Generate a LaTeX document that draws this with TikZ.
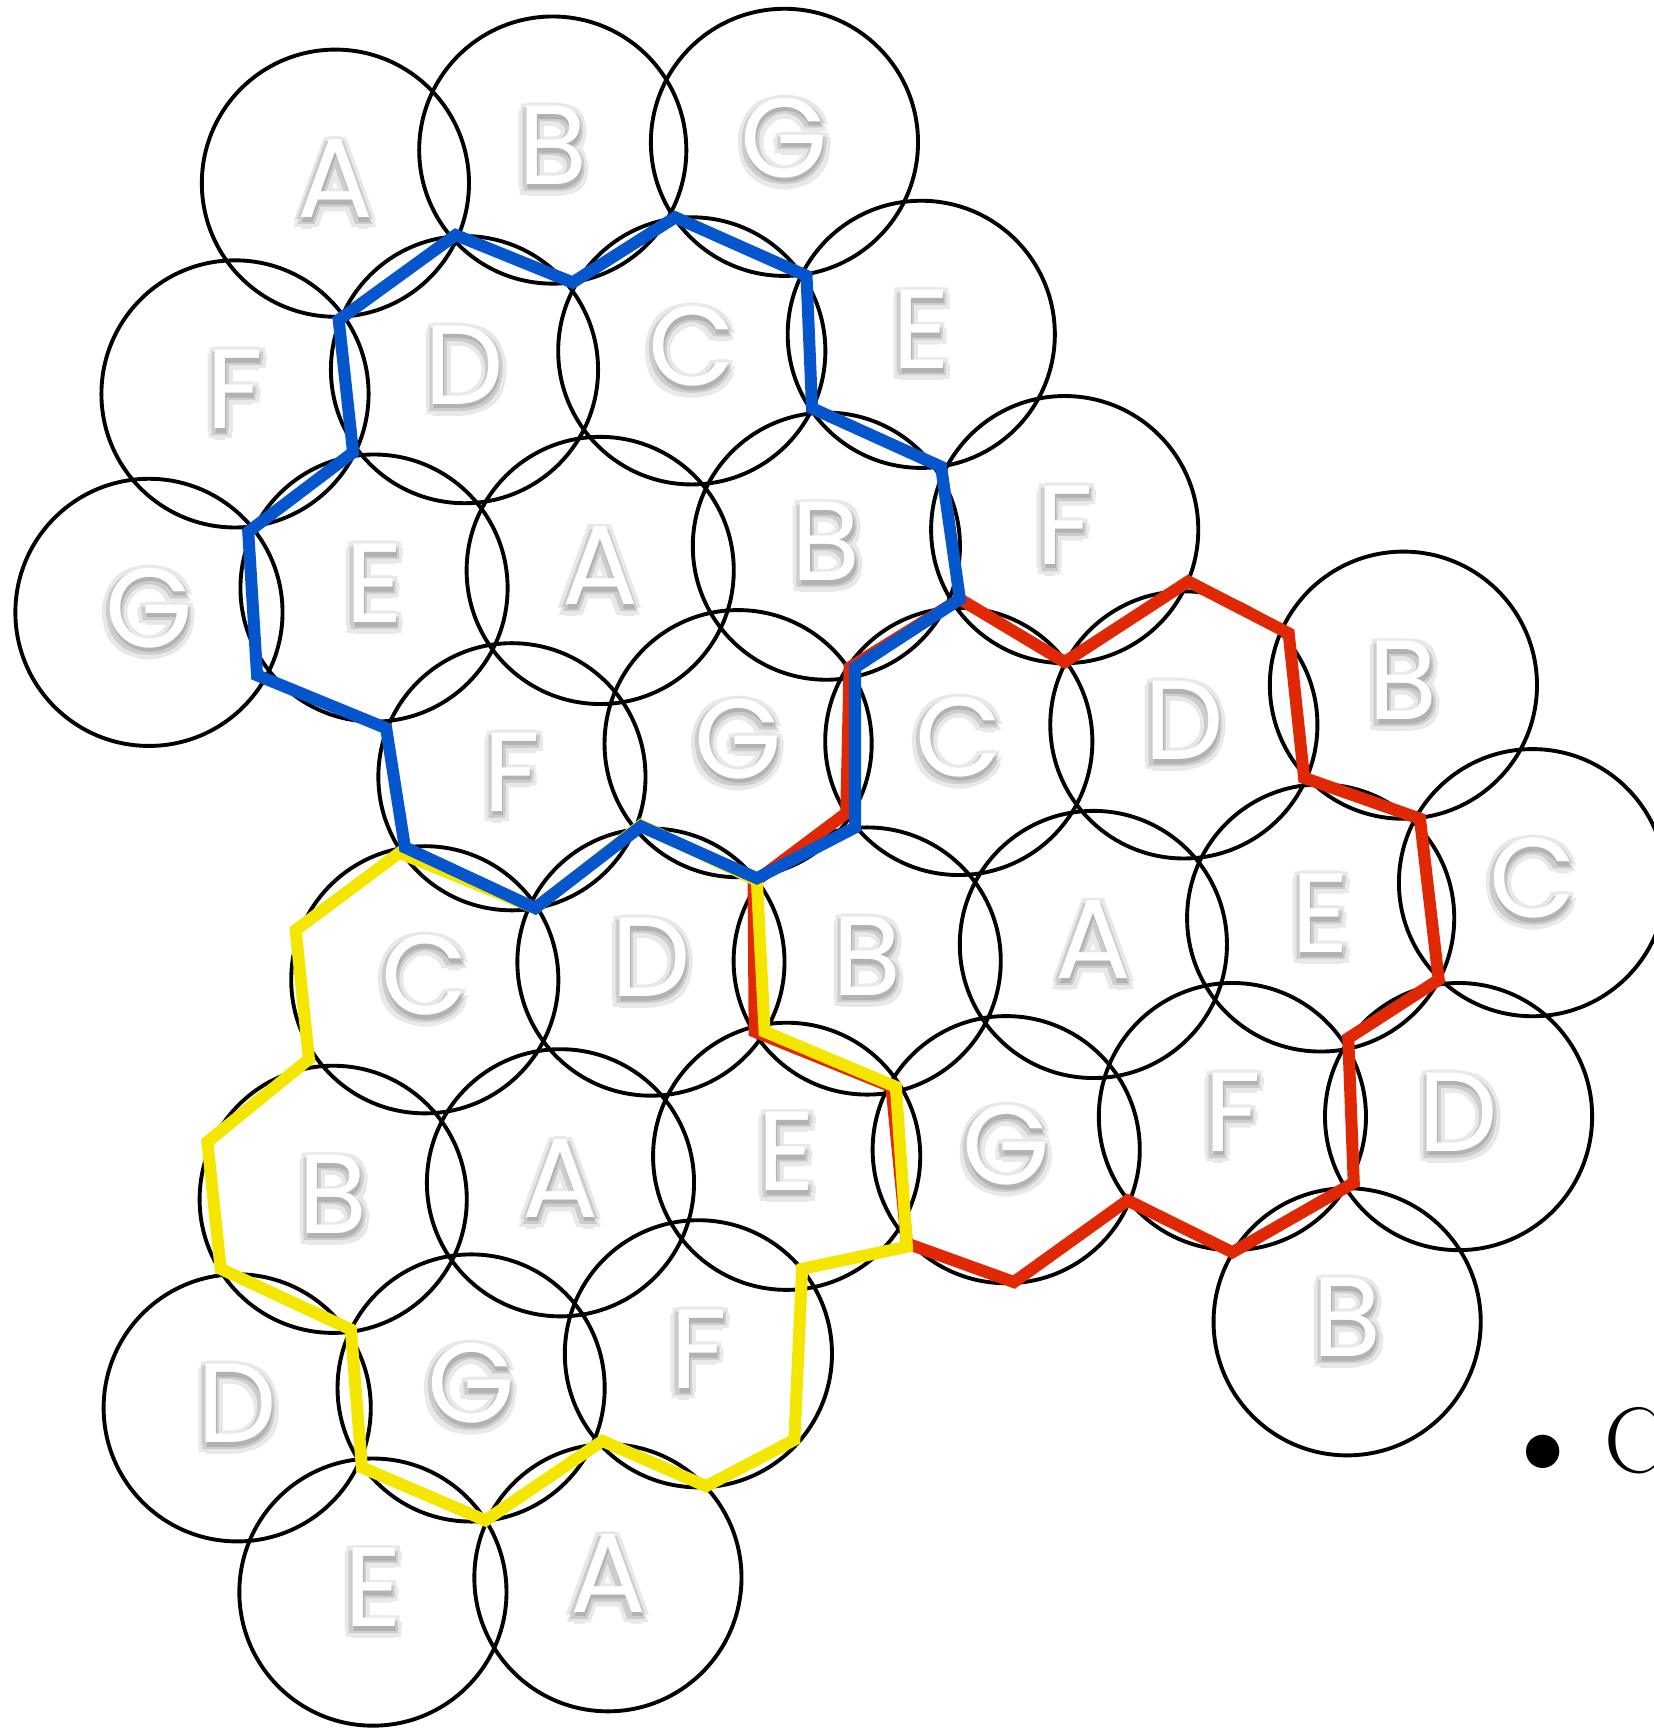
\documentclass[tikz,border=0pt]{standalone}
\usepackage{fontspec}
\newfontfamily\cellfont{Poppins}
\definecolor{pathblue}{RGB}{5,85,205}
\definecolor{pathred}{RGB}{225,40,5}
\definecolor{pathyellow}{RGB}{245,230,0}
% white letter with a soft grey drop shadow
\newcommand{\shadowed}[1]{%
  \foreach \dx/\dy in {-1.7/-2.7,0/-3.1,1.7/-2.7,-1.9/-1.0,1.9/-1.0,-1.4/0.5,0/0.7,1.4/0.5}{%
    \makebox[0pt][l]{\hspace{\dx pt}\raisebox{\dy pt}{\textcolor{black!9}{#1}}}}%
  \foreach \dx/\dy in {-0.8/-1.8,0.8/-1.8,-0.9/-0.6,0.9/-0.6}{%
    \makebox[0pt][l]{\hspace{\dx pt}\raisebox{\dy pt}{\textcolor{black!20}{#1}}}}%
  \makebox[0pt][l]{\hspace{0.3pt}\raisebox{-1.2pt}{\textcolor{black!30}{#1}}}%
  \textcolor{white}{#1}}
\begin{document}
\begin{tikzpicture}[
        x=0.01cm, y=-0.01cm,
        cell/.style={circle, draw=black, line width=1pt, minimum size=2.42cm, inner sep=0pt,
                     font=\cellfont\fontsize{29}{32}\selectfont},
        tour/.style={line width=3.1pt, line join=miter},
    ]
    \useasboundingbox (0,0) rectangle (1499,1568);
    % Row 1
    \node[cell] (A1) at (304,166) {\shadowed{A}};
    \node[cell] (B1) at (501,136) {\shadowed{B}};
    \node[cell] (G1) at (711,129) {\shadowed{G}};
    % Row 2
    \node[cell] (F1) at (213,357) {\shadowed{F}};
    \node[cell] (D1) at (421,335) {\shadowed{D}};
    \node[cell] (C1) at (627,318) {\shadowed{C}};
    \node[cell] (E1) at (835,303) {\shadowed{E}};
    % Row 3
    \node[cell] (G2) at (135,555) {\shadowed{G}};
    \node[cell] (E2) at (339,533) {\shadowed{E}};
    \node[cell] (A2) at (544,517) {\shadowed{A}};
    \node[cell] (B2) at (749,495) {\shadowed{B}};
    \node[cell] (F2) at (965,480) {\shadowed{F}};
    % Row 4
    \node[cell] (F3) at (464,704) {\shadowed{F}};
    \node[cell] (G3) at (669,674) {\shadowed{G}};
    \node[cell] (C2) at (869,672) {\shadowed{C}};
    \node[cell] (D2) at (1073,657) {\shadowed{D}};
    \node[cell] (B3) at (1272,621) {\shadowed{B}};
    % Row 5
    \node[cell] (C3) at (385,888) {\shadowed{C}};
    \node[cell] (D3) at (590,872) {\shadowed{D}};
    \node[cell] (B4) at (786,871) {\shadowed{B}};
    \node[cell] (A3) at (991,856) {\shadowed{A}};
    \node[cell] (E3) at (1197,832) {\shadowed{E}};
    \node[cell] (C4) at (1389,800) {\shadowed{C}};
    % Row 6
    \node[cell] (B5) at (302,1087) {\shadowed{B}};
    \node[cell] (A4) at (508,1072) {\shadowed{A}};
    \node[cell] (E4) at (713,1048) {\shadowed{E}};
    \node[cell] (G4) at (912,1042) {\shadowed{G}};
    \node[cell] (F4) at (1117,1012) {\shadowed{F}};
    \node[cell] (D4) at (1322,1012) {\shadowed{D}};
    % Row 7
    \node[cell] (D5) at (215,1276) {\shadowed{D}};
    \node[cell] (G5) at (427,1258) {\shadowed{G}};
    \node[cell] (F5) at (633,1227) {\shadowed{F}};
    \node[cell] (B6) at (1221,1198) {\shadowed{B}};
    % Row 8
    \node[cell] (E5) at (338,1443) {\shadowed{E}};
    \node[cell] (A5) at (551,1430) {\shadowed{A}};

    % Red tour
    \draw[tour, pathred] (870,543) -- (965,600) -- (1077,527) -- (1168,574) -- (1182,705)
        -- (1287,742) -- (1304,888) -- (1222,941) -- (1227,1072) -- (1117,1135) -- (1022,1088)
        -- (919,1162) -- (822,1127) -- (808,985) -- (684,935) -- (683,800) -- (767,737)
        -- (770,605) -- cycle;
    % Yellow tour
    \draw[tour, pathyellow] (686,798) -- (693,935) -- (812,985) -- (822,1130) -- (727,1150)
        -- (720,1305) -- (640,1347) -- (546,1306) -- (440,1378) -- (328,1330) -- (318,1205)
        -- (200,1150) -- (188,1035) -- (280,960) -- (268,843) -- (362,773) -- (485,823)
        -- (581,748) -- cycle;
    % Blue tour
    \draw[tour, pathblue] (413,213) -- (519,256) -- (612,197) -- (731,250) -- (736,370)
        -- (853,423) -- (870,543) -- (775,605) -- (775,750) -- (686,796) -- (581,749)
        -- (485,823) -- (367,768) -- (350,660) -- (233,612) -- (225,482) -- (320,410)
        -- (307,290) -- cycle;

    \node[anchor=base west, inner sep=0pt, font=\fontsize{24}{28}\selectfont] (item) at (1454,1335)
        {\llap{\raisebox{-4.9pt}{\scalebox{1.6}{\textbullet}}\hspace{2pt}}C};
\end{tikzpicture}
\end{document}
